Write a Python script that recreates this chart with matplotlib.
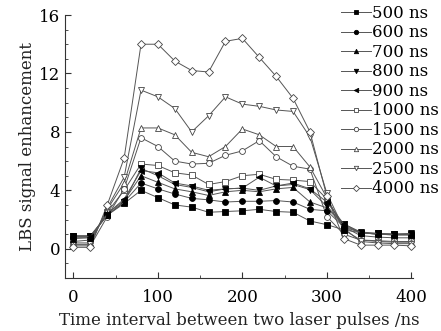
import matplotlib
matplotlib.use("Agg")
import matplotlib.pyplot as plt
from matplotlib.ticker import MultipleLocator

plt.rcParams['font.family'] = ['DejaVu Serif']

time_ns = [0, 20, 40, 60, 80, 100, 120, 140, 160, 180, 200, 220, 240, 260, 280,
           300, 320, 340, 360, 380, 400]

labels = ["500 ns", "600 ns", "700 ns", "800 ns", "900 ns",
          "1000 ns", "1500 ns", "2000 ns", "2500 ns", "4000 ns"]

s500 = [0.9, 0.9, 2.3, 3.1, 4.0, 3.5, 3.0, 2.85, 2.5, 2.55, 2.6, 2.7, 2.55, 2.5, 1.9,
        1.65, 1.3, 1.1, 1.05, 1.0, 1.0]
s600 = [0.8, 0.8, 2.3, 3.2, 4.5, 4.1, 3.75, 3.45, 3.35, 3.2, 3.25, 3.25, 3.3, 3.2, 2.7,
        2.6, 1.5, 1.1, 1.0, 1.0, 1.0]
s700 = [0.7, 0.75, 2.4, 3.3, 5.0, 4.55, 4.1, 3.9, 3.65, 3.9, 4.0, 3.9, 4.1, 4.2, 3.2,
        2.8, 1.6, 1.1, 1.0, 0.95, 0.95]
s800 = [0.85, 0.85, 2.3, 3.2, 5.5, 5.0, 4.4, 4.2, 3.9, 4.1, 4.15, 4.0, 4.3, 4.4, 4.05,
        2.9, 1.7, 1.15, 1.05, 1.0, 1.05]
s900 = [0.8, 0.8, 2.4, 3.4, 5.35, 5.2, 4.5, 4.3, 4.0, 4.1, 4.15, 4.9, 4.3, 4.5, 4.1,
        3.2, 1.7, 1.1, 1.0, 0.95, 0.95]
s1000 = [0.5, 0.6, 2.5, 4.0, 5.8, 5.7, 5.2, 5.05, 4.4, 4.6, 5.0, 5.1, 4.75, 4.7, 4.6,
         3.4, 1.5, 0.9, 0.8, 0.75, 0.75]
s1500 = [0.2, 0.2, 2.2, 4.1, 7.6, 7.0, 6.0, 5.8, 5.85, 6.4, 6.7, 7.4, 6.3, 5.65, 5.45,
         2.2, 1.0, 0.6, 0.55, 0.5, 0.5]
s2000 = [0.4, 0.4, 2.7, 4.5, 8.27, 8.27, 7.8, 6.6, 6.3, 7.0, 8.2, 7.8, 7.0, 7.0, 5.6,
         3.5, 1.3, 0.6, 0.5, 0.45, 0.45]
s2500 = [0.3, 0.3, 2.8, 4.9, 10.86, 10.4, 9.6, 8.0, 9.1, 10.4, 9.9, 9.75, 9.5, 9.4, 7.65,
         3.8, 1.4, 0.5, 0.4, 0.35, 0.35]
s4000 = [0.1, 0.1, 3.0, 6.2, 14.0, 14.0, 12.85, 12.2, 12.1, 14.2, 14.4, 13.1, 11.8, 10.3, 8.0,
         3.6, 0.7, 0.25, 0.25, 0.25, 0.2]

series = [s500, s600, s700, s800, s900, s1000, s1500, s2000, s2500, s4000]
markers = ['s', 'o', '^', 'v', '<', 's', 'o', '^', 'v', 'D']
filled = [True] * 5 + [False] * 5

fig = plt.figure(figsize=(4.41, 3.31), dpi=100)
ax = fig.add_axes([65 / 441, 1 - 278 / 331, (413 - 65) / 441, (278 - 15) / 331])

handles = []
for vals, mk, fl, lab in zip(series, markers, filled, labels):
    h, = ax.plot(time_ns, vals, color='#555555', lw=0.7, marker=mk, ms=4.2,
                 mfc='black' if fl else 'white', mec='black' if fl else '#444444',
                 mew=0.6, label=lab, clip_on=False, zorder=3 if fl else 2)
    handles.append(h)

ax.set_xlim(-10, 402)
ax.set_ylim(-2, 16)
ax.xaxis.set_major_locator(MultipleLocator(100))
ax.xaxis.set_minor_locator(MultipleLocator(50))
ax.yaxis.set_major_locator(MultipleLocator(4))
ax.yaxis.set_minor_locator(MultipleLocator(1))
ax.tick_params(which='both', direction='in', labelsize=12, color='#333333')
ax.tick_params(which='major', length=4)
ax.tick_params(which='minor', length=2)
ax.tick_params(axis='x', which='major', pad=8)
for sp in ['top', 'right']:
    ax.spines[sp].set_visible(False)
for sp in ['left', 'bottom']:
    ax.spines[sp].set_color('#333333')
    ax.spines[sp].set_linewidth(0.8)

ax.set_xlabel("Time interval between two laser pulses /ns", fontsize=12, labelpad=4, color='#222222')
ax.set_ylabel("LBS signal enhancement", fontsize=12, labelpad=2, color='#222222')

leg = fig.legend(handles=handles, loc='upper right', bbox_to_anchor=(1.0, 0.99),
                 frameon=False, fontsize=12, handlelength=1.8, handletextpad=0.1,
                 labelspacing=0.15, borderpad=0.1, borderaxespad=0.0, markerscale=0.75)

fig.savefig("out.png", dpi=100)
